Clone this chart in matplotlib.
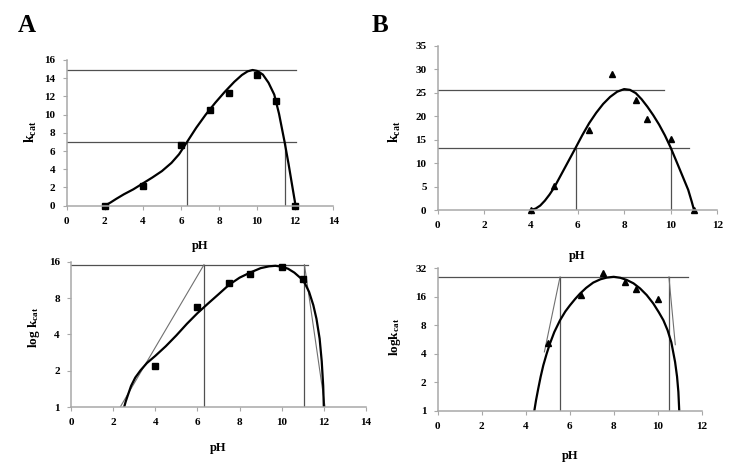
import numpy as np
import matplotlib
matplotlib.use('Agg')
import matplotlib.pyplot as plt
from matplotlib.ticker import FixedLocator, FixedFormatter

plt.rcParams['font.family'] = ['Liberation Serif', 'DejaVu Serif']
plt.rcParams['font.weight'] = 'bold'
plt.rcParams['mathtext.fontset'] = 'custom'
plt.rcParams['mathtext.rm'] = 'Liberation Serif:bold'
plt.rcParams['mathtext.bf'] = 'Liberation Serif:bold'
plt.rcParams['mathtext.it'] = 'Liberation Serif:bold'

# ---- panel A data (squares) ----
ph_a = [2, 4, 6, 7.5, 8.5, 10, 11, 12]
kcat_a = [0, 2.2, 6.7, 10.55, 12.4, 14.4, 11.45, 0]

# fitted curve
curve_a_x = [2.0, 2.3, 2.6, 3.0, 3.5, 4.0, 4.5, 5.0, 5.5, 5.9, 6.33, 6.8, 7.3, 7.8,
             8.3, 8.8, 9.2, 9.5, 9.76, 10.0, 10.3, 10.6, 10.9, 11.15, 11.44, 11.65,
             11.85, 12.02]
curve_a_y = [0, 0.35, 0.75, 1.25, 1.8, 2.45, 3.1, 3.8, 4.7, 5.65, 7.03, 8.55, 10.0, 11.3,
             12.5, 13.6, 14.35, 14.75, 14.9, 14.8, 14.4, 13.5, 12.2, 10.1, 7.03, 4.6,
             2.1, 0]
a_hlines = [14.95, 7.03]
a_hline_end = 12.02
a_vlines = [6.33, 11.44]

# log plot, panel A
ph_a_log = [4, 6, 7.5, 8.5, 10, 11]
kcat_a_log = [2.21, 6.7, 10.6, 12.6, 14.4, 11.5]
curve_al_x = [2.52, 2.6, 2.7, 2.85, 3.05, 3.3, 3.6, 4.0, 4.5, 5.0, 5.5, 6.0, 6.5, 7.0,
              7.5, 8.0, 8.5, 9.0, 9.4, 9.7, 10.0, 10.3, 10.6, 10.9, 11.1, 11.3, 11.5,
              11.65, 11.8, 11.9, 11.97, 12.0]
curve_al_y = [1.0, 1.12, 1.26, 1.5, 1.76, 2.02, 2.32, 2.66, 3.2, 3.93, 4.9, 6.0, 7.2, 8.6,
              10.3, 11.8, 13.0, 14.15, 14.65, 14.8, 14.55, 14.0, 13.0, 11.7, 10.6, 9.0,
              7.0, 5.4, 3.7, 2.4, 1.5, 1.0]
al_top = 15.1
al_top_end = 11.27
al_vlines = [6.31, 11.08]
al_tangents = [([2.33, 6.31], [1.0, 15.1]), ([11.08, 12.06], [15.1, 1.0])]

# ---- panel B data (triangles) ----
ph_b = [4, 5, 6.5, 7.5, 8.5, 9, 10, 11]
kcat_b = [0, 5.1, 17.0, 29.0, 23.5, 19.4, 15.2, 0]
curve_b_x = [4.0, 4.2, 4.4, 4.6, 4.8, 5.0, 5.25, 5.5, 5.75, 5.92, 6.2, 6.5, 6.8, 7.1,
             7.4, 7.7, 8.0, 8.25, 8.5, 8.75, 9.0, 9.25, 9.5, 9.75, 10.0, 10.25, 10.5,
             10.75, 10.9, 11.0]
curve_b_y = [0, 0.3, 0.95, 2.0, 3.3, 4.8, 7.1, 9.4, 11.7, 13.27, 15.9, 18.5, 20.7, 22.6,
             24.1, 25.2, 25.76, 25.6, 24.9, 23.6, 22.0, 20.2, 18.2, 15.9, 13.27, 10.3, 7.3,
             4.3, 1.8, 0]
b_hlines = [25.6, 13.27]
b_hline_ends = [9.71, 10.77]
b_vlines = [5.92, 10.0]

ph_b_log = [5, 6.5, 7.5, 8.5, 9, 10]
kcat_b_log = [5.2, 16.9, 28.6, 22.9, 19.2, 15.3]
curve_bl_x = [4.39, 4.47, 4.57, 4.68, 4.8, 4.95, 5.1, 5.3, 5.56, 5.8, 6.01, 6.25, 6.47,
              6.75, 7.07, 7.4, 7.68, 8.0, 8.3, 8.59, 8.9, 9.2, 9.5, 9.8, 10.05, 10.26,
              10.45, 10.62, 10.79, 10.88, 10.94, 10.98]
curve_bl_y = [1.0, 1.3, 1.72, 2.3, 3.03, 4.0, 5.13, 6.8, 9.05, 11.2, 13.0, 15.2, 17.3,
              19.9, 22.6, 24.5, 25.5, 26.0, 25.4, 24.1, 22.2, 19.6, 16.7, 13.6, 11.0, 9.05,
              7.1, 5.3, 3.29, 2.3, 1.59, 1.0]
bl_top = 25.9
bl_top_end = 11.36
bl_vlines = [5.56, 10.51]
bl_tangents = [([5.56, 4.85], [25.9, 4.2]), ([10.51, 10.8], [25.9, 5.0])]

ref_col = '#505050'
axis_col = '#a8a8a8'


def style(ax, xt, yt):
    for s in ['top', 'right']:
        ax.spines[s].set_visible(False)
    for s in ['left', 'bottom']:
        ax.spines[s].set_color(axis_col)
        ax.spines[s].set_linewidth(1.1)
    ax.tick_params(direction='out', length=3, width=0.8, color=axis_col,
                   labelsize=8, pad=5)
    ax.set_xticks(xt)
    ax.set_xticklabels([str(v) for v in xt], fontweight='bold')
    ax.yaxis.set_major_locator(FixedLocator(yt))
    ax.yaxis.set_major_formatter(FixedFormatter([str(v) for v in yt]))
    ax.yaxis.set_minor_locator(FixedLocator([]))
    for lab in ax.get_yticklabels():
        lab.set_fontweight('bold')


fig = plt.figure(figsize=(7.38, 4.69), dpi=100)

# top left
ax1 = fig.add_axes([0.0904, 0.5614, 0.3612, 0.3107])
for h in a_hlines:
    ax1.plot([0, a_hline_end], [h, h], color=ref_col, lw=0.9)
for v in a_vlines:
    ax1.plot([v, v], [0, a_hlines[1]], color=ref_col, lw=0.9)
ax1.plot(curve_a_x, curve_a_y, color='black', lw=1.6)
ax1.plot(ph_a, kcat_a, 's', color='black', ms=4.5, clip_on=False)
ax1.set_xlim(0, 14)
ax1.set_ylim(0, 16)
style(ax1, list(range(0, 15, 2)), list(range(0, 17, 2)))
ax1.set_ylabel(r'$\mathbf{k_{cat}}$', fontsize=10)
ax1.yaxis.set_label_coords(-0.105, 0.51)
ax1.set_xlabel('pH', fontsize=9, fontweight='bold')
ax1.xaxis.set_label_coords(0.5, -0.235)

# bottom left
ax2 = fig.add_axes([0.0962, 0.1316, 0.3997, 0.3104])
ax2.set_yscale('log', base=2)
ax2.plot([0, al_top_end], [al_top, al_top], color=ref_col, lw=0.9)
for v in al_vlines:
    ax2.plot([v, v], [1, al_top], color=ref_col, lw=0.9)
for tx, ty in al_tangents:
    ax2.plot(tx, ty, color='#707070', lw=0.8)
ax2.plot(curve_al_x, curve_al_y, color='black', lw=1.6)
ax2.plot(ph_a_log, kcat_a_log, 's', color='black', ms=4.5)
ax2.set_xlim(0, 14)
ax2.set_ylim(1, 16)
style(ax2, list(range(0, 15, 2)), [1, 2, 4, 8, 16])
ax2.set_ylabel(r'log $\mathbf{k_{cat}}$', fontsize=9.5, fontweight='bold')
ax2.yaxis.set_label_coords(-0.099, 0.55)
ax2.set_xlabel('pH', fontsize=9, fontweight='bold')
ax2.xaxis.set_label_coords(0.498, -0.236)

# top right
ax3 = fig.add_axes([0.5931, 0.5522, 0.3789, 0.3503])
for h, e in zip(b_hlines, b_hline_ends):
    ax3.plot([0, e], [h, h], color=ref_col, lw=0.9)
for v in b_vlines:
    ax3.plot([v, v], [0, b_hlines[1]], color=ref_col, lw=0.9)
ax3.plot(curve_b_x, curve_b_y, color='black', lw=1.6)
ax3.plot(ph_b, kcat_b, '^', color='black', ms=4.5, clip_on=False)
ax3.set_xlim(0, 12)
ax3.set_ylim(0, 35)
style(ax3, list(range(0, 13, 2)), list(range(0, 36, 5)))
ax3.set_ylabel(r'$\mathbf{k_{cat}}$', fontsize=10)
ax3.yaxis.set_label_coords(-0.125, 0.477)
ax3.set_xlabel('pH', fontsize=9, fontweight='bold')
ax3.xaxis.set_label_coords(0.498, -0.243)

# bottom right
ax4 = fig.add_axes([0.5931, 0.1237, 0.3577, 0.3043])
ax4.set_yscale('log', base=2)
ax4.plot([0, bl_top_end], [bl_top, bl_top], color=ref_col, lw=0.9)
for v in bl_vlines:
    ax4.plot([v, v], [1, bl_top], color=ref_col, lw=0.9)
for tx, ty in bl_tangents:
    ax4.plot(tx, ty, color='#707070', lw=0.8)
ax4.plot(curve_bl_x, curve_bl_y, color='black', lw=1.6)
ax4.plot(ph_b_log, kcat_b_log, '^', color='black', ms=4.5)
ax4.set_xlim(0, 12)
ax4.set_ylim(1, 32)
style(ax4, list(range(0, 13, 2)), [1, 2, 4, 8, 16, 32])
ax4.set_ylabel(r'log$\mathbf{k_{cat}}$', fontsize=9.5, fontweight='bold')
ax4.yaxis.set_label_coords(-0.133, 0.52)
ax4.set_xlabel('pH', fontsize=9, fontweight='bold')
ax4.xaxis.set_label_coords(0.5, -0.273)

fig.text(0.024, 0.945, 'A', fontsize=18, fontweight='bold', va='center', ha='left')
fig.text(0.503, 0.945, 'B', fontsize=18, fontweight='bold', va='center', ha='left')

fig.savefig('out.png', dpi=100, facecolor='white')
